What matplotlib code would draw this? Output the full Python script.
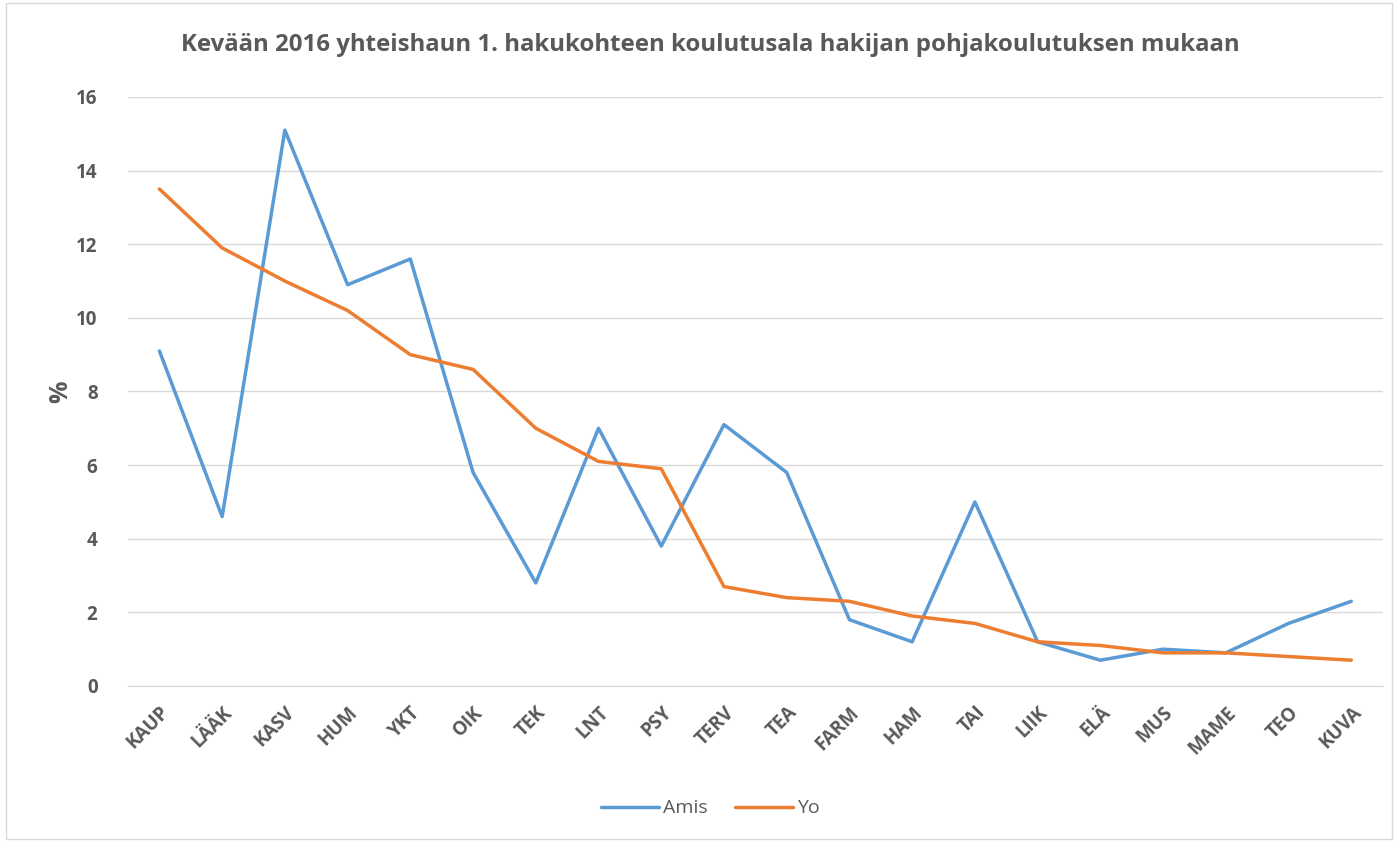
import matplotlib
matplotlib.use("Agg")
import matplotlib.pyplot as plt
from matplotlib.patches import Rectangle

categories = ["KAUP", "LÄÄK", "KASV", "HUM", "YKT", "OIK", "TEK", "LNT", "PSY", "TERV",
              "TEA", "FARM", "HAM", "TAI", "LIIK", "ELÄ", "MUS", "MAME", "TEO", "KUVA"]
amis = [9.1, 4.6, 15.1, 10.9, 11.6, 5.8, 2.8, 7.0, 3.8, 7.1,
        5.8, 1.8, 1.2, 5.0, 1.2, 0.7, 1.0, 0.9, 1.7, 2.3]
yo = [13.5, 11.9, 11.0, 10.2, 9.0, 8.6, 7.0, 6.1, 5.9, 2.7,
      2.4, 2.3, 1.9, 1.7, 1.2, 1.1, 0.9, 0.9, 0.8, 0.7]
yticks = [0, 2, 4, 6, 8, 10, 12, 14, 16]

plt.rcParams['font.family'] = ['Open Sans', 'DejaVu Sans']
gray = "#595959"

fig = plt.figure(figsize=(13.98, 8.42), dpi=100)
fig.patches.append(Rectangle((0.004, 0.004), 0.992, 0.992, transform=fig.transFigure,
                             fill=False, edgecolor="#d9d9d9", linewidth=1))
ax = fig.add_axes([0.0916, 0.1853, 0.8974, 0.6995])

x = list(range(len(categories)))
ax.plot(x, amis, color="#5B9BD5", linewidth=2.5, label="Amis", solid_capstyle="round")
ax.plot(x, yo, color="#ED7D31", linewidth=2.5, label="Yo", solid_capstyle="round")

ax.set_xlim(-0.5, len(categories) - 0.5)
ax.set_ylim(0, 16)
ax.set_yticks(yticks)
ax.set_yticklabels([str(v) for v in yticks], fontsize=13.5, fontweight="bold", color=gray)
ax.set_xticks(x)
ax.set_xticklabels(categories, rotation=45, ha="right", rotation_mode="anchor",
                   fontsize=13.5, fontweight="bold", color=gray)
ax.grid(axis="y", color="#d9d9d9", linewidth=1)
ax.set_axisbelow(True)
for s in ["top", "right", "left"]:
    ax.spines[s].set_visible(False)
ax.spines["bottom"].set_color("#d9d9d9")
ax.tick_params(axis="both", length=0)
ax.tick_params(axis="y", pad=22)
ax.tick_params(axis="x", pad=12)
ax.set_ylabel("%", fontsize=18, fontweight="bold", color=gray, labelpad=2)

fig.text(0.508, 0.947, "Kevään 2016 yhteishaun 1. hakukohteen koulutusala hakijan pohjakoulutuksen mukaan",
         ha="center", va="center", fontsize=17.3, fontweight="bold", color=gray)

leg = ax.legend(loc="center", ncol=2, frameon=False, fontsize=14, handlelength=3.0,
                columnspacing=1.4, handletextpad=0.2)
for t in leg.get_texts():
    t.set_color(gray)
leg.set_bbox_to_anchor((0.508, 0.04), transform=fig.transFigure)

fig.savefig("out.png", dpi=100)
